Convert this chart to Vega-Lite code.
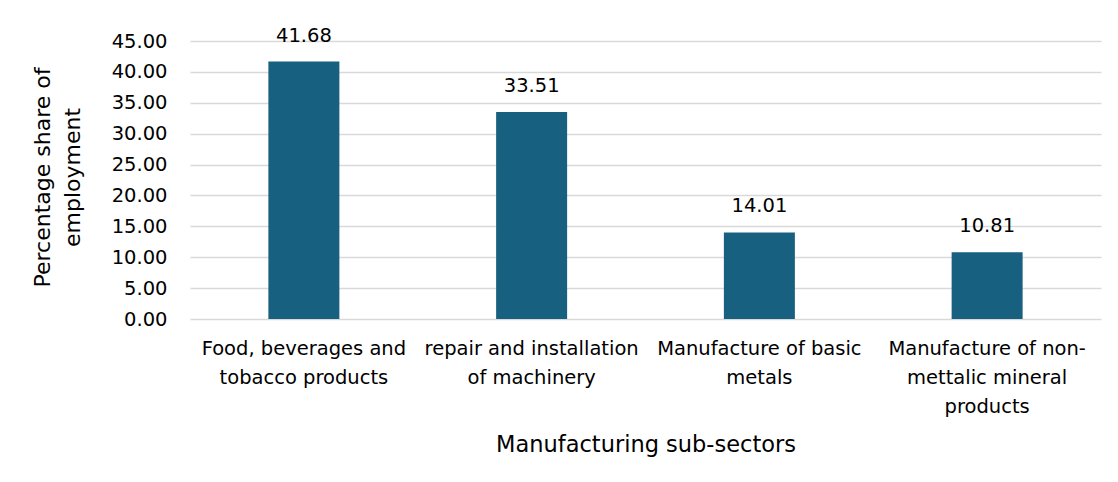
{
  "$schema": "https://vega.github.io/schema/vega-lite/v6.json",
  "width": 911,
  "height": 278,
  "autosize": {"type": "none"},
  "padding": {"left": 190, "top": 41, "right": 17, "bottom": 163},
  "background": "white",
  "config": {
    "view": {"stroke": null},
    "font": "DejaVu Sans",
    "axis": {"labelFont": "DejaVu Sans", "titleFont": "DejaVu Sans", "labelColor": "#000000", "titleColor": "#000000", "titleFontWeight": "normal"}
  },
  "data": {
    "values": [
      {"sector": "Food, beverages and|tobacco products", "share": 41.68},
      {"sector": "repair and installation|of machinery", "share": 33.51},
      {"sector": "Manufacture of basic|metals", "share": 14.01},
      {"sector": "Manufacture of non-|mettalic mineral|products", "share": 10.81}
    ]
  },
  "encoding": {
    "x": {
      "field": "sector",
      "type": "nominal",
      "sort": null,
      "scale": {"paddingInner": 0, "paddingOuter": 0},
      "axis": {
        "title": "Manufacturing sub-sectors",
        "titleFontSize": 22.5,
        "titleY": 125,
        "titleBaseline": "middle",
        "labelExpr": "split(datum.label, '|')",
        "labelAngle": 0,
        "labelFontSize": 19.5,
        "labelLineHeight": 29,
        "labelPadding": 20,
        "labelBaseline": "top",
        "labelLimit": 400,
        "ticks": false,
        "domain": false,
        "grid": false
      }
    },
    "y": {
      "field": "share",
      "type": "quantitative",
      "scale": {"domain": [0, 45]},
      "axis": {
        "title": ["Percentage share of", "employment"],
        "titleFontSize": 22,
        "titleLineHeight": 30,
        "titleAnchor": "middle",
        "titleAngle": -90,
        "titleBaseline": "top",
        "titleX": -158,
        "titleY": 136,
        "values": [0, 5, 10, 15, 20, 25, 30, 35, 40, 45],
        "format": ".2f",
        "labelFontSize": 19.5,
        "labelPadding": 23,
        "ticks": false,
        "domain": false,
        "gridColor": "#d9d9d9",
        "gridWidth": 1.5
      }
    }
  },
  "layer": [
    {"mark": {"type": "bar", "size": 71, "color": "#18607f"}},
    {
      "mark": {"type": "text", "baseline": "bottom", "dy": -16, "fontSize": 19.5, "color": "#000000", "font": "DejaVu Sans"},
      "encoding": {"text": {"field": "share", "type": "quantitative", "format": ".2f"}}
    }
  ]
}
